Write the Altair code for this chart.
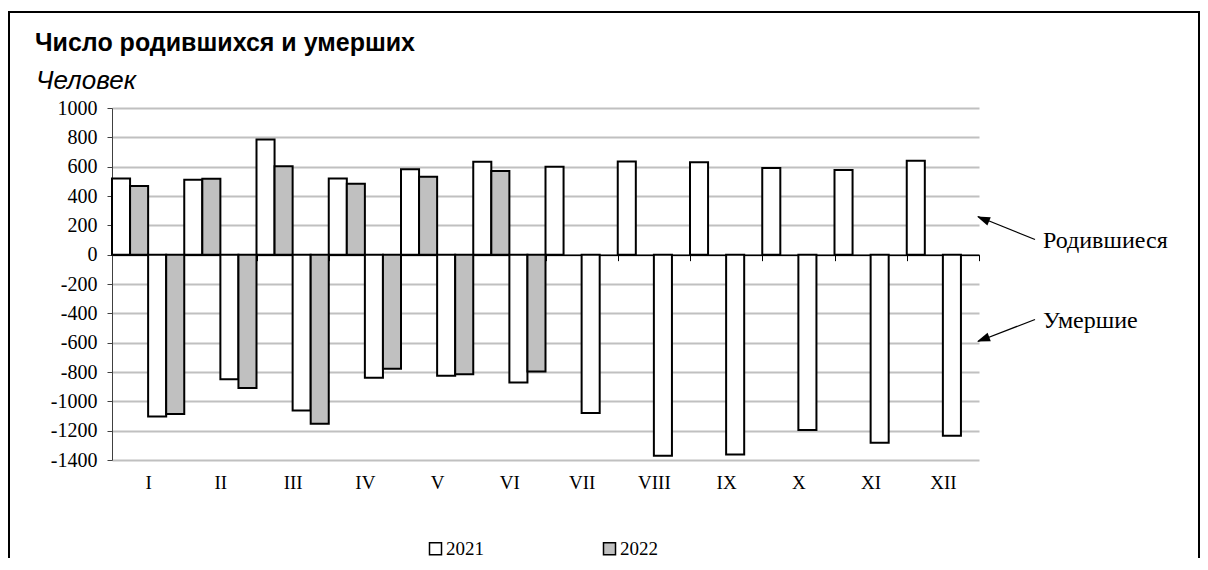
import altair as alt
import pandas as pd

# ---- data ----
months = ["I", "II", "III", "IV", "V", "VI", "VII", "VIII", "IX", "X", "XI", "XII"]
births_2021 = [520, 510, 785, 520, 582, 634, 600, 636, 630, 591, 578, 641]
births_2022 = [469, 518, 602, 484, 532, 571]
deaths_2021 = [-1103, -850, -1062, -839, -825, -871, -1080, -1371, -1362, -1196, -1282, -1235]
deaths_2022 = [-1087, -909, -1153, -778, -816, -796]
years = ["2021", "2022"]
slots = ["births_2021", "births_2022", "deaths_2021", "deaths_2022"]
y_ticks = list(range(-1400, 1001, 200))
title_text = "Число родившихся и умерших"
subtitle_text = "Человек"

rows = []
for slot, vals, year in [
    ("births_2021", births_2021, "2021"),
    ("births_2022", births_2022, "2022"),
    ("deaths_2021", deaths_2021, "2021"),
    ("deaths_2022", deaths_2022, "2022"),
]:
    for m, v in zip(months, vals):
        rows.append({"month": m, "series": slot, "year": year, "value": v})
df = pd.DataFrame(rows)

# ---- layout ----
W, H = 867, 352
Y_MIN, Y_MAX = -1400, 1000
zero_from_bottom = H * (0 - Y_MIN) / (Y_MAX - Y_MIN)
SERIF = "Liberation Serif"
SANS = "Liberation Sans"

one = alt.Data(values=[{"k": 1}])

frame = alt.Chart(one).mark_rect(
    fill="white", fillOpacity=0, stroke="black", strokeWidth=2
).encode(
    x=alt.value(-103), x2=alt.value(1087), y=alt.value(-96), y2=alt.value(470)
)

title = alt.Chart(one).mark_text(
    text=title_text, align="left", baseline="alphabetic", font=SANS,
    fontSize=25, fontWeight="bold", color="black",
).encode(x=alt.value(-77), y=alt.value(-57))

subtitle = alt.Chart(one).mark_text(
    text=subtitle_text, align="left", baseline="alphabetic", font=SANS,
    fontSize=26, fontStyle="italic", color="black",
).encode(x=alt.value(-76), y=alt.value(-19))

bars = alt.Chart(df).mark_bar(stroke="black", strokeWidth=2).encode(
    x=alt.X(
        "month:N",
        sort=months,
        scale=alt.Scale(domain=months, paddingInner=0, paddingOuter=0),
        axis=alt.Axis(
            title=None,
            offset=-zero_from_bottom,
            domainColor="black",
            domainWidth=1.5,
            ticks=True,
            tickColor="black",
            tickBand="extent",
            tickSize=6,
            labelAngle=0,
            labelBaseline="middle",
            labelPadding=222,
            labelFont=SERIF,
            labelFontSize=19,
            labelColor="black",
            grid=False,
        ),
    ),
    xOffset=alt.XOffset(
        "series:N", sort=slots,
        scale=alt.Scale(domain=slots, paddingInner=0, paddingOuter=0),
    ),
    y=alt.Y(
        "value:Q",
        scale=alt.Scale(domain=[Y_MIN, Y_MAX], nice=False),
        axis=alt.Axis(
            title=None,
            values=y_ticks,
            grid=True,
            gridColor="#c0c0c0",
            gridWidth=2,
            domainColor="#404040",
            domainWidth=1,
            tickColor="#404040",
            tickSize=5,
            labelFont=SERIF,
            labelFontSize=20,
            labelColor="black",
            labelPadding=10,
            labelOverlap=False,
            labelExpr="'' + datum.value",
        ),
    ),
    fill=alt.Fill(
        "year:N",
        scale=alt.Scale(domain=years, range=["white", "#c0c0c0"]),
        legend=alt.Legend(
            title=None,
            orient="none",
            legendX=314,
            legendY=431,
            direction="horizontal",
            symbolType="square",
            symbolSize=144,
            symbolStrokeColor="black",
            symbolStrokeWidth=1.5,
            labelFont=SERIF,
            labelFontSize=19,
            labelColor="black",
            labelOffset=1,
            columnPadding=116,
            padding=0,
        ),
    ),
)

ARROW = "M0,0 L2,-0.7 L2,0.7 Z"


def annotation(label, tip_y, start_y, text_y, angle):
    rule = alt.Chart(one).mark_rule(color="black", strokeWidth=1.3).encode(
        x=alt.value(923), x2=alt.value(866), y=alt.value(start_y), y2=alt.value(tip_y)
    )
    head = alt.Chart(one).mark_point(
        shape=ARROW, filled=True, fill="black", strokeWidth=0, size=169,
        angle=angle, opacity=1,
    ).encode(x=alt.value(865), y=alt.value(tip_y))
    txt = alt.Chart(one).mark_text(
        text=label, align="left", baseline="middle", font=SERIF, fontSize=24,
        color="black",
    ).encode(x=alt.value(931), y=alt.value(text_y))
    return [rule, head, txt]


ann = annotation("Родившиеся", 108.5, 131.5, 132.5, 21.9) + annotation(
    "Умершие", 233.5, 211.5, 212.5, 339.5
)

chart = (
    alt.layer(frame, title, subtitle, bars, *ann)
    .properties(
        width=W,
        height=H,
        padding={"left": 104, "top": 100, "right": 221, "bottom": 98},
        autosize=alt.AutoSizeParams(type="none"),
    )
    .configure_view(stroke="transparent")
)

chart.save("out.html", embed_options={"renderer": "svg", "actions": False})
